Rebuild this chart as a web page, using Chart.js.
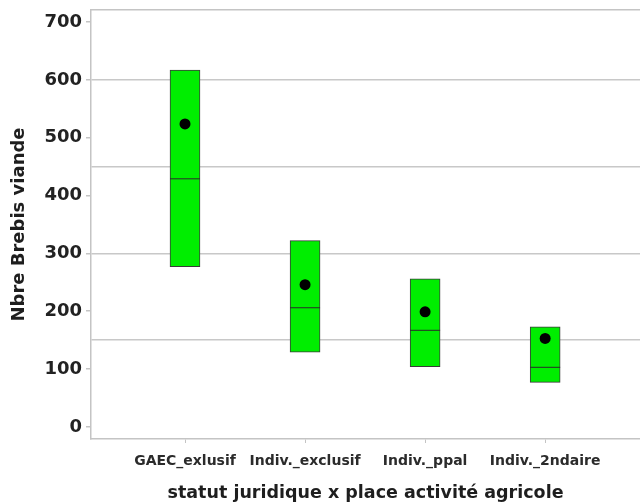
<!DOCTYPE html>
<html>
<head>
<meta charset="utf-8">
<script src="https://cdn.jsdelivr.net/npm/chart.js@4"></script>
<style>
  html, body { margin: 0; padding: 0; background: #fff; }
  #wrap { width: 640px; height: 504px; }
</style>
</head>
<body>
<div id="wrap"><canvas id="boxChart"></canvas></div>
<script>
const categories = ["GAEC_exlusif", "Indiv._exclusif", "Indiv._ppal", "Indiv._2ndaire"];
const positions = [1, 2, 3, 4];
const lowerQuartile = [277, 129, 104, 77];
const upperQuartile = [617, 322, 256, 173];
const medians = [429, 206, 167, 103];
const means = [524, 246, 199, 153];

const FONT = "'DejaVu Sans', sans-serif";
const axisGray = "#c4c4c4";

function noPad(scale) {
  scale.paddingTop = 0;
  scale.paddingBottom = 0;
  scale.paddingLeft = 0;
  scale.paddingRight = 0;
}

const ctx = document.getElementById("boxChart");
new Chart(ctx, {
  type: "bar",
  data: {
    datasets: [
      {
        type: "bar",
        label: "Q1-Q3",
        data: positions.map((p, i) => ({ x: p, y: [lowerQuartile[i], upperQuartile[i]] })),
        backgroundColor: "#00ee00",
        borderColor: "#3a3a3a",
        borderWidth: 1,
        borderSkipped: false,
        barThickness: 30,
        order: 3
      },
      {
        type: "scatter",
        label: "Médiane",
        data: positions.map((p, i) => ({ x: p, y: medians[i] })),
        pointStyle: "line",
        radius: 15,
        borderColor: "#2a2a2a",
        borderWidth: 1,
        order: 2
      },
      {
        type: "scatter",
        label: "Moyenne",
        data: positions.map((p, i) => ({ x: p, y: means[i] })),
        pointStyle: "circle",
        radius: 5.5,
        backgroundColor: "#000",
        borderColor: "#000",
        borderWidth: 0,
        order: 1
      }
    ]
  },
  options: {
    responsive: true,
    maintainAspectRatio: false,
    animation: false,
    layout: { autoPadding: false, padding: { top: 10, right: 0, bottom: 0, left: 0 } },
    plugins: {
      legend: { display: false },
      tooltip: { enabled: false }
    },
    scales: {
      x: {
        type: "linear",
        offset: false,
        min: 0.217,
        max: 4.79,
        afterBuildTicks: scale => {
          scale.ticks = positions.map(v => ({ value: v }));
        },
        afterFit: scale => { scale.height = 65; noPad(scale); },
        ticks: {
          autoSkip: false,
          maxRotation: 0,
          padding: 10,
          color: "#2b2b2b",
          font: { family: FONT, size: 14, weight: "bold" },
          callback: v => categories[v - 1] || ""
        },
        grid: {
          offset: false,
          drawOnChartArea: false,
          tickLength: 4,
          tickColor: axisGray
        },
        border: { color: axisGray, width: 1.5 },
        title: {
          display: true,
          text: "statut juridique x place activité agricole",
          color: "#1e1e1e",
          font: { family: FONT, size: 17.5, weight: "bold" },
          padding: { top: 0, bottom: 0 }
        }
      },
      xTop: {
        type: "linear",
        position: "top",
        offset: false,
        min: 0.217,
        max: 4.79,
        ticks: { display: false },
        grid: { display: false, drawTicks: false, offset: false },
        border: { color: axisGray, width: 1.5 },
        afterFit: scale => { scale.height = 0; noPad(scale); }
      },
      y: {
        min: -21,
        max: 721,
        afterBuildTicks: scale => {
          const t = [];
          for (let v = 0; v <= 700; v += 50) t.push({ value: v });
          scale.ticks = t;
        },
        afterFit: scale => { scale.width = 91; noPad(scale); },
        ticks: {
          autoSkip: false,
          padding: 4,
          color: "#222",
          font: { family: FONT, size: 18, weight: "bold" },
          callback: v => (v % 100 === 0 ? String(v) : "")
        },
        grid: {
          tickLength: 5,
          lineWidth: 1.5,
          color: c => (c.tick && c.tick.value > 0 && c.tick.value % 150 === 0 ? "#c8c8c8" : "rgba(0,0,0,0)"),
          tickColor: c => (c.tick && c.tick.value % 100 === 0 ? axisGray : "rgba(0,0,0,0)")
        },
        border: { color: axisGray, width: 1.5 },
        title: {
          display: true,
          text: "Nbre Brebis viande",
          color: "#1e1e1e",
          font: { family: FONT, size: 18, weight: "bold" },
          padding: { top: 9, bottom: 0 }
        }
      }
    }
  }
});
</script>
</body>
</html>
